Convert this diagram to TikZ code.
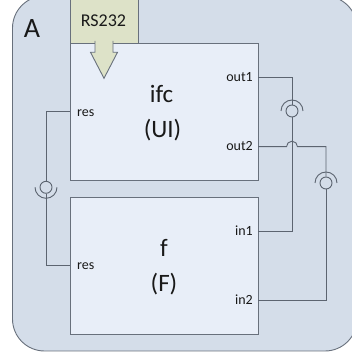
\documentclass[tikz,border=0pt]{standalone}
\usepackage{fontspec}
\setmainfont{Carlito}
\usepackage{tikz}
\usetikzlibrary{arrows.meta,positioning,calc}
\definecolor{bgA}{RGB}{212,221,233}
\definecolor{blockfill}{RGB}{232,238,248}
\definecolor{rsfill}{RGB}{221,226,200}
\definecolor{edgegray}{RGB}{104,112,124}
\definecolor{wiregray}{RGB}{92,100,112}
\tikzset{
  lbl/.style={font=\fontsize{14}{16}\selectfont, inner sep=0pt, text=black!90},
  big/.style={font=\fontsize{25}{30}\selectfont, inner sep=0pt, text=black!90}
}

\begin{document}
\begin{tikzpicture}[x=1pt, y=1pt,
        outer/.style={draw=edgegray, fill=bgA, line width=0.9pt, rounded corners=32pt},
        block/.style={draw=edgegray, fill=blockfill, line width=0.9pt, minimum width=188pt, minimum height=137pt, inner sep=0pt},
        rs/.style={draw=edgegray, fill=rsfill, line width=0.9pt, minimum width=68pt, minimum height=45pt, inner sep=0pt},
        wire/.style={draw=wiregray, line width=0.9pt},
        ring/.style={circle, draw=wiregray, fill=bgA, line width=0.9pt, minimum size=12pt, inner sep=0pt}
    ]
    \useasboundingbox (0,0) rectangle (352,358);
    \draw[outer] (12.5,7) rectangle (357,362);
    \node[font=\fontsize{28}{32}\selectfont, inner sep=0pt, text=black!90, anchor=base] (lblA) at (32,320) {A};
    % blocks
    \node[rs] (rs232) at (104,337.5) {};
    \node[block] (ifc) at (164,246.5) {};
    \node[block] (f) at (164,92.5) {};
    \node[font=\fontsize{18}{20}\selectfont, inner sep=0pt, text=black!90, anchor=base] (rstext) at (103.5,331) {RS232};
    \draw[edgegray, fill=rsfill, line width=0.9pt] (95,317) -- (95,305.7) -- (90.5,305.7) -- (104,279.7)
        -- (117.5,305.7) -- (113,305.7) -- (113,317);
    \node[big, anchor=base] (ifctext) at (161.5,255) {ifc};
    \node[big, anchor=base] (uitext) at (162.5,220) {(UI)};
    \node[big, anchor=base] (ftext) at (164,101) {f};
    \node[big, anchor=base] (Ftext) at (164,66) {(F)};
    % ports
    \node[lbl, anchor=base west] (res1) at (77,241) {res};
    \node[lbl, anchor=base west] (res2) at (77,88) {res};
    \node[lbl, anchor=base east] (lout1) at (253,276) {out1};
    \node[lbl, anchor=base east] (lout2) at (253,207) {out2};
    \node[lbl, anchor=base east] (lin1) at (253,122) {in1};
    \node[lbl, anchor=base east] (lin2) at (253,53) {in2};
    \coordinate (out1) at (258,280.3);
    \coordinate (out2) at (258,211.3);
    \coordinate (in1) at (258,127);
    \coordinate (in2) at (258,58);
    \coordinate (hop) at (286.5,211.3);
    \node[ring] (ringres) at (46,170.7) {};
    \node[ring] (ring1) at (292,247) {};
    \node[ring] (ring2) at (326,175) {};
    % connections
    \draw[wire] (ifc.west) -| (ringres.north);
    \draw[wire] (ringres.south) |- (f.west);
    \draw[wire] (ringres.center) ++(11,0) arc[start angle=0, end angle=-180, radius=11pt];
    \draw[wire] (out1) -| (ring1.north);
    \draw[wire] (ring1.south) |- (in1);
    \draw[wire] (ring1.center) ++(-11,0) arc[start angle=180, end angle=0, radius=11pt];
    \draw[wire] (out2) -- (hop) arc[start angle=180, end angle=0, radius=5.5pt] -| (ring2.north);
    \draw[wire] (ring2.south) |- (in2);
    \draw[wire] (ring2.center) ++(-11,0) arc[start angle=180, end angle=0, radius=11pt];
\end{tikzpicture}
\end{document}
